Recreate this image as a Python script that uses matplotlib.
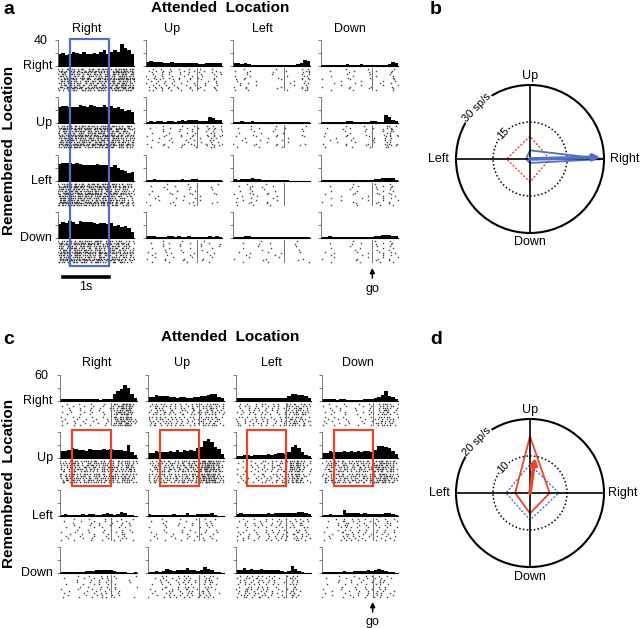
import numpy as np
import matplotlib
matplotlib.use("Agg")
import matplotlib.pyplot as plt
from matplotlib.patches import Rectangle, Circle, Polygon, FancyArrowPatch
from matplotlib.lines import Line2D
from matplotlib.transforms import blended_transform_factory

plt.rcParams['font.family'] = ['Liberation Sans', 'DejaVu Sans']

W, H = 640, 628

# time axis of each PSTH / raster (s), go signal and analysis window
t_end = 1.65
bin_w = 0.075
go_t = 1.1
window = (0.25, 1.1)

directions = ['Right', 'Up', 'Left', 'Down']

# panel a: PSTH values (sp/s), one list per remembered location,
# columns in order Right, Up, Left, Down (attended location)
a_rem_right = [
    [19, 20, 17, 19, 22, 20, 18, 21, 19, 18, 20, 19, 22, 24, 19, 21, 25, 22, 34, 28, 24, 18],
    [6, 7, 6, 6, 6, 5, 5, 6, 5, 4, 4, 4, 5, 4, 5, 3, 3, 4, 4, 4, 5, 5],
    [4, 4, 3, 4, 3, 2, 1, 1, 1, 1, 1, 1, 1, 1, 1, 2, 1, 2, 3, 5, 9, 7],
    [2, 1, 1, 1, 2, 2, 2, 3, 2, 2, 2, 3, 2, 2, 2, 2, 1, 2, 2, 3, 6, 4],
]
a_rem_up = [
    [25, 26, 26, 24, 25, 24, 27, 26, 24, 27, 26, 24, 25, 27, 24, 26, 23, 24, 21, 19, 20, 17],
    [2, 3, 2, 3, 3, 2, 3, 3, 2, 3, 4, 3, 4, 5, 4, 3, 3, 3, 9, 8, 5, 5],
    [2, 2, 3, 2, 2, 3, 2, 2, 2, 2, 2, 2, 2, 2, 2, 2, 2, 1, 1, 2, 2, 1],
    [2, 2, 2, 1, 2, 2, 2, 3, 3, 2, 2, 2, 2, 2, 3, 3, 2, 2, 13, 9, 5, 3],
]
a_rem_left = [
    [26, 27, 28, 27, 26, 27, 26, 25, 25, 24, 25, 26, 25, 24, 25, 22, 24, 20, 17, 16, 12, 14],
    [2, 2, 3, 2, 2, 2, 1, 2, 2, 2, 3, 2, 2, 3, 3, 2, 1, 2, 1, 1, 2, 1],
    [3, 2, 3, 3, 3, 4, 3, 3, 2, 2, 2, 2, 2, 1, 1, 1, 0, 0, 0, 0, 0, 0],
    [1, 2, 2, 1, 1, 1, 1, 2, 2, 2, 2, 2, 1, 2, 2, 3, 3, 4, 4, 5, 4, 2],
]
a_rem_down = [
    [22, 25, 23, 26, 24, 22, 26, 24, 24, 24, 23, 22, 23, 23, 22, 23, 19, 20, 17, 18, 16, 10],
    [3, 3, 3, 2, 2, 2, 3, 3, 2, 3, 2, 2, 3, 2, 2, 2, 2, 2, 3, 2, 3, 2],
    [1, 1, 2, 3, 3, 1, 1, 1, 1, 2, 1, 1, 2, 2, 1, 1, 1, 1, 1, 1, 1, 1],
    [1, 2, 3, 2, 1, 1, 1, 1, 1, 1, 2, 2, 2, 2, 2, 3, 3, 4, 4, 5, 3, 3],
]

# panel c: same layout
c_rem_right = [
    [5, 4, 5, 4, 5, 5, 4, 5, 4, 4, 5, 3, 4, 5, 4, 17, 22, 28, 38, 30, 16, 8],
    [9, 10, 13, 11, 11, 11, 9, 10, 8, 9, 9, 8, 8, 9, 10, 11, 12, 15, 16, 16, 10, 6],
    [8, 7, 8, 8, 7, 8, 7, 8, 7, 7, 8, 7, 7, 8, 8, 12, 17, 16, 15, 15, 12, 7],
    [5, 5, 4, 5, 3, 4, 5, 3, 3, 2, 3, 3, 4, 5, 4, 6, 10, 14, 22, 12, 10, 4],
]
c_rem_up = [
    [17, 17, 19, 22, 20, 18, 19, 17, 20, 18, 19, 19, 20, 19, 20, 19, 18, 18, 16, 30, 14, 8],
    [11, 12, 16, 14, 15, 13, 16, 14, 18, 15, 19, 17, 19, 16, 23, 26, 40, 45, 37, 25, 20, 10],
    [4, 5, 8, 6, 4, 6, 7, 7, 8, 10, 8, 9, 11, 11, 9, 13, 26, 30, 22, 14, 8, 5],
    [12, 12, 16, 13, 15, 15, 16, 14, 17, 15, 17, 15, 17, 16, 14, 18, 28, 27, 26, 22, 16, 10],
]
c_rem_left = [
    [3, 4, 3, 3, 2, 3, 4, 3, 5, 4, 2, 3, 5, 6, 4, 2, 4, 9, 8, 3, 2, 1],
    [4, 3, 3, 2, 2, 3, 3, 4, 2, 2, 3, 6, 3, 2, 4, 4, 5, 5, 6, 3, 0, 0],
    [5, 6, 5, 5, 4, 5, 5, 4, 5, 6, 5, 6, 7, 6, 7, 6, 6, 8, 9, 9, 7, 4],
    [2, 3, 5, 2, 2, 3, 14, 8, 7, 6, 6, 5, 6, 4, 5, 4, 4, 5, 7, 8, 4, 2],
]
c_rem_down = [
    [3, 2, 3, 2, 3, 3, 3, 4, 4, 5, 6, 7, 6, 8, 7, 5, 3, 2, 2, 1, 0, 2],
    [3, 3, 4, 3, 4, 10, 6, 5, 6, 7, 6, 11, 6, 6, 5, 6, 14, 10, 6, 3, 2, 1],
    [7, 7, 12, 8, 9, 8, 8, 9, 7, 7, 6, 6, 6, 5, 3, 4, 16, 10, 5, 2, 0, 0],
    [2, 3, 3, 3, 2, 3, 4, 3, 3, 4, 4, 5, 5, 6, 5, 6, 10, 8, 4, 2, 3, 1],
]

# polar tuning (sp/s), order Right, Up, Left, Down
b_remembered = [30, 3.5, 1.6, 1.6]
b_attended = [8, 9.2, 9.5, 9.3]
b_vector = (28.5, 1.5)     # length, angle (deg)
d_attended = [5.3, 15.3, 4, 5.5]
d_remembered = [7.8, 7.7, 6.5, 7.3]
d_vector = (9.7, 82)

blue = '#4f6fc4'
red = '#ea4429'


def px_axes(fig, x0, y0, x1, y1):
    return fig.add_axes([x0 / W, 1 - y1 / H, (x1 - x0) / W, (y1 - y0) / H])


def fy(y):
    return 1 - y / H


def raster_times(rates, n_trials):
    # spike ticks laid out from the PSTH counts, trial by trial
    xs, ys = [], []
    n = 0
    for k in range(n_trials):
        acc = (k * k * 0.3183 + k * 0.41) % 1
        for b, r in enumerate(rates):
            acc += r * bin_w
            while acc >= 1:
                n += 1
                frac = (n * n * 0.618034 + n * 0.4142) % 1
                xs.append((b + frac) * bin_w)
                ys.append(k)
                acc -= 1
    return xs, ys


def draw_grid(fig, rows, cols_x, tops, ymax, n_trials):
    """Draws the 4x4 grid of PSTH + raster, returns the axes"""
    edges = np.arange(len(rows[0][0])) * bin_w
    grid = []
    for i, row in enumerate(rows):
        top = tops[i]
        base = top + 26
        line = []
        for j, (x0, x1) in enumerate(cols_x):
            ax = px_axes(fig, x0, top, x1, base)
            ax.bar(edges, row[j], width=bin_w, align='edge', color='black', linewidth=0)
            ax.set_xlim(0, t_end)
            ax.set_ylim(0, ymax)
            ax.set_xticks([])
            ax.set_yticks([0, ymax / 2, ymax])
            ax.set_yticklabels([])
            ax.tick_params(axis='y', length=2.5, width=0.6, color='0.4', direction='out')
            for s in ['top', 'right']:
                ax.spines[s].set_visible(False)
            ax.spines['left'].set_linewidth(0.6)
            ax.spines['left'].set_color('0.4')
            ax.spines['bottom'].set_linewidth(0.8)

            rax = px_axes(fig, x0, base + 2, x1, base + 25)
            xs, ys = raster_times(row[j], n_trials)
            rax.plot(xs, ys, linestyle='none', marker='s', markersize=1.0,
                     markeredgewidth=0, color='0.25')
            rax.axvline(go_t, color='0.45', lw=0.7)
            rax.set_xlim(0, t_end)
            rax.set_ylim(n_trials - 0.5, -0.5)
            rax.axis('off')
            line.append((ax, rax))
        grid.append(line)
    return grid


def window_box(fig, ax, y0, y1, color):
    tr = blended_transform_factory(ax.transData, fig.transFigure)
    rect = Rectangle((window[0], fy(y1)), window[1] - window[0], fy(y0) - fy(y1),
                     transform=tr, fill=False, edgecolor=color, lw=1.6)
    fig.add_artist(rect)


def go_marker(fig, ax, y_arrow, y_text):
    tr = blended_transform_factory(ax.transData, fig.transFigure)
    fig.add_artist(FancyArrowPatch(
        (go_t, fy(y_arrow + 10)), (go_t, fy(y_arrow)), transform=tr,
        arrowstyle='-|>', mutation_scale=7, lw=1.1, color='black', shrinkA=0, shrinkB=0))
    fig.text(go_t, fy(y_text), 'go', transform=tr, ha='center', va='center', fontsize=9)


def draw_polar(ax, rmax, solid_vals, solid_color, dotted_vals, dotted_color, vec, vec_color,
               outer_lbl, mid_lbl, lbl_pos):
    ang = np.deg2rad([0, 90, 180, 270])
    ax.add_patch(Circle((0, 0), rmax, fill=False, lw=1.5, color='black'))
    ax.add_patch(Circle((0, 0), rmax / 2, fill=False, lw=1.1, ls=(0, (1, 1.5)), color='black'))
    ax.plot([-rmax, rmax], [0, 0], color='black', lw=1.2)
    ax.plot([0, 0], [-rmax, rmax], color='black', lw=1.2)

    dv = np.array(dotted_vals)
    ax.add_patch(Polygon(np.c_[dv * np.cos(ang), dv * np.sin(ang)], closed=True, fill=False,
                         edgecolor=dotted_color, lw=1.0, ls=(0, (1.5, 1.2))))
    sv = np.array(solid_vals)
    ax.add_patch(Polygon(np.c_[sv * np.cos(ang), sv * np.sin(ang)], closed=True, fill=False,
                         edgecolor=solid_color, lw=1.3))

    length, a = vec
    a = np.deg2rad(a)
    ax.annotate('', xy=(length * np.cos(a), length * np.sin(a)), xytext=(0, 0),
                arrowprops=dict(arrowstyle='-|>', lw=2.6, color=vec_color,
                                mutation_scale=9, shrinkA=0, shrinkB=0))

    t = np.deg2rad(136)
    ax.text(rmax * np.cos(t), rmax * np.sin(t), outer_lbl, rotation=46, ha='center',
            va='center', fontsize=8, bbox=dict(fc='white', ec='none', pad=0.6))
    ax.text(rmax / 2 * np.cos(t), rmax / 2 * np.sin(t), mid_lbl, rotation=46, ha='center',
            va='center', fontsize=8, bbox=dict(fc='white', ec='none', pad=0.4))

    for name, (x, y) in zip(directions, lbl_pos):
        ax.text(x, y, name, ha='center', va='center', fontsize=9, clip_on=False)

    lim = rmax * 90 / 74
    ax.set_xlim(-lim, lim)
    ax.set_ylim(-lim, lim)
    ax.set_aspect('equal')
    ax.axis('off')


fig = plt.figure(figsize=(W / 100, H / 100), dpi=100)

# ---------------- panel a ----------------
a_cols = [(58, 134), (146, 222), (233, 310), (321, 398)]
a_tops = [40, 97, 155, 212]
grid_a = draw_grid(fig, [a_rem_right, a_rem_up, a_rem_left, a_rem_down], a_cols, a_tops, 40, 13)

fig.text(3 / W, fy(10), 'a', fontsize=14, fontweight='bold', va='center')
fig.text(220 / W, fy(8), 'Attended  Location', fontsize=11, fontweight='bold',
         ha='center', va='center')
for name, xc in zip(directions, [87, 172, 262, 350]):
    fig.text(xc / W, fy(29), name, fontsize=9, ha='center', va='center')
for name, top in zip(directions, a_tops):
    fig.text(52 / W, fy(top + 26), name, fontsize=9, ha='right', va='center')
fig.text(48 / W, fy(41), '40', fontsize=9, ha='right', va='center')
fig.text(9 / W, fy(150), 'Remembered  Location', fontsize=11, fontweight='bold',
         rotation=90, ha='center', va='center')

window_box(fig, grid_a[0][0][0], a_tops[0] - 1, a_tops[3] + 54, blue)

# scale bar 1 s
ax_ref = grid_a[3][0][0]
tr = blended_transform_factory(ax_ref.transData, fig.transFigure)
fig.add_artist(Line2D([go_t - 1, go_t], [fy(277), fy(277)], transform=tr,
                      color='black', lw=2.6))
fig.text((go_t - 0.5), fy(287), '1s', transform=tr, fontsize=9, ha='center', va='center')
go_marker(fig, grid_a[3][3][0], 268, 289)

# ---------------- panel c ----------------
c_cols = [(60, 137), (148, 224), (236, 311), (322, 398)]
c_tops = [375, 432, 490, 547]
grid_c = draw_grid(fig, [c_rem_right, c_rem_up, c_rem_left, c_rem_down], c_cols, c_tops, 60, 11)

fig.text(3 / W, fy(340), 'c', fontsize=14, fontweight='bold', va='center')
fig.text(230 / W, fy(337), 'Attended  Location', fontsize=11, fontweight='bold',
         ha='center', va='center')
for name, xc in zip(directions, [97, 182, 271, 358]):
    fig.text(xc / W, fy(363), name, fontsize=9, ha='center', va='center')
for name, top in zip(directions, c_tops):
    fig.text(53 / W, fy(top + 26), name, fontsize=9, ha='right', va='center')
fig.text(48 / W, fy(376), '60', fontsize=9, ha='right', va='center')
fig.text(9 / W, fy(483), 'Remembered  Location', fontsize=11, fontweight='bold',
         rotation=90, ha='center', va='center')

for j in range(4):
    window_box(fig, grid_c[1][j][0], c_tops[1] - 2, c_tops[1] + 54, red)
go_marker(fig, grid_c[3][3][0], 602, 622)

# ---------------- panel b ----------------
ax_b = px_axes(fig, 440, 69, 620, 249)
draw_polar(ax_b, 30, b_remembered, blue, b_attended, red, b_vector, blue, '30 sp/s', '15',
           [(38.5, 0), (0, 33.6), (-37.3, 0), (0, -33.6)])
fig.text(430 / W, fy(10), 'b', fontsize=14, fontweight='bold', va='center')

# ---------------- panel d ----------------
ax_d = px_axes(fig, 440, 403, 620, 583)
draw_polar(ax_d, 20, d_attended, red, d_remembered, blue, d_vector, red, '20 sp/s', '10',
           [(25, 0), (0, 22.3), (-24.5, 0), (0, -22.7)])
fig.text(430 / W, fy(340), 'd', fontsize=14, fontweight='bold', va='center')

fig.savefig('out.png', dpi=100)
